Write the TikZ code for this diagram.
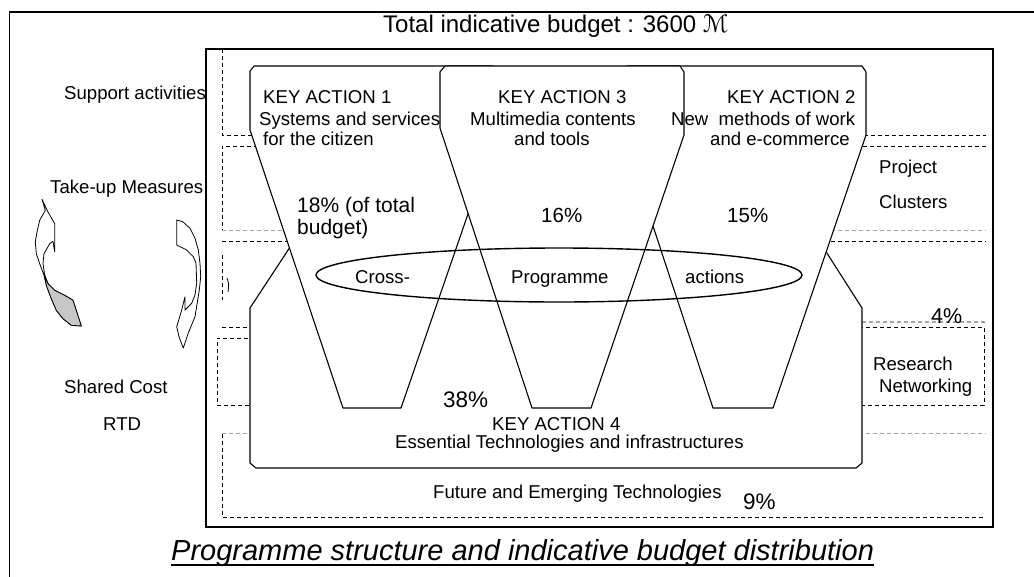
\documentclass[tikz,border=0pt]{standalone}
\usepackage{fontspec}
\setmainfont{Liberation Sans}
\newfontfamily\symfont{DejaVu Sans}
\begin{document}
\begin{tikzpicture}[x=1pt,y=-1pt,
  lbl/.style={anchor=base west, inner sep=0pt, font=\fontsize{18.6}{20}\selectfont},
  pct/.style={anchor=base west, inner sep=0pt, font=\fontsize{#1}{24}\selectfont},
  dsh/.style={dash pattern=on 4pt off 3pt, line width=0.8pt},
  gdsh/.style={dsh, draw=black!35},
  frame/.style={line width=1.8pt},
  ka/.style={draw, fill=white, line width=1.1pt, line join=round},
  twist/.style={draw, fill=white, line width=0.8pt, line join=round}]
\useasboundingbox (0,0) rectangle (1034,576);
% outer frame (clipped at the right and bottom)
\begin{scope}
  \clip (0,0) rectangle (1034,576);
  \draw[frame] (9.5,12) rectangle (1045,600);
\end{scope}
% inner frame
\draw[frame] (206,49) rectangle (993,527);
% dashed activity bands
\draw[dsh] (222,49) -- (222,135) -- (986,135);
\draw[dsh] (986,146) -- (222,146) -- (222,230);
\draw[gdsh] (222,230) -- (986,230);
\draw[dsh] (222,241) -- (986,241);
\draw[dsh] (222,255) -- (222,300);
\draw[dsh] (222,327) -- (984,327) -- (984,405) -- (217,405) -- (217,338) -- (250,338);
\draw[dsh] (862,322) -- (984,322) -- (985,326);
\draw[gdsh] (222,433) -- (986,433);
\draw[dsh] (222,434) -- (222,517) -- (986,517);
% KEY ACTION 4 (bottom shape)
\draw[ka] (250,308) -- (321,200) -- (793,200) -- (862,308) -- (862,463) -- (856,468) -- (256,468) -- (250,463) -- cycle;
% KEY ACTION 1 funnel
\draw[ka] (254,66) -- (493,66) -- (497,71) -- (497,130) -- (401,408) -- (343,408) -- (250,130) -- (250,71) -- cycle;
% KEY ACTION 2 funnel
\draw[ka] (623,135) -- (623,71) -- (627,66) -- (862,66) -- (866,72) -- (866,135) -- (773,408) -- (713,408) -- cycle;
% KEY ACTION 3 funnel (on top)
\draw[ka] (445,66) -- (680,66) -- (684,72) -- (684,135) -- (591,408) -- (532,408) -- (440,128) -- (440,72) -- cycle;
% cross-programme ellipse
\draw[line width=1.4pt] (559,275) ellipse [x radius=243pt, y radius=27pt];
% left curved arrow (up)
\draw[twist] (42,199.3) -- (48,212) -- (54.7,223.7) -- (54.7,252) -- (53,241.3) -- (49.7,243.7)
  -- (44,253.7) -- (43,263.7) -- (44.7,275.3) -- (48,283.7) -- (54.7,290.3) -- (64.7,295.3)
  -- (73,300.3) -- (81.3,326) -- (71.3,325.3) -- (63,318.7) -- (56.3,310.3) -- (51.3,298.7)
  -- (46.3,285.3) -- (44,275.3) -- (39.7,263.7) -- (36.3,253.7) -- (35.3,242) -- (37.3,230.3)
  -- (39.7,220.3) -- (45.3,210.3) -- cycle;
\draw[twist, fill=black!22] (44.7,275.3) -- (48,283.7) -- (54.7,290.3) -- (64.7,295.3)
  -- (73,300.3) -- (81.3,326) -- (71.3,325.3) -- (63,318.7) -- (56.3,310.3) -- (51.3,298.7)
  -- (46.3,285.3) -- cycle;
% right curved arrow (down)
\draw[twist] (176.7,220) -- (182.7,221.7) -- (190,228.3) -- (195,238.3) -- (198.3,250) -- (200,263.3)
  -- (200.7,276.7) -- (199.3,290) -- (195,316.7) -- (188.3,333) -- (183.3,348) -- (179,336.7)
  -- (176.7,326.7) -- (181.7,310) -- (185,296.7) -- (185,310) -- (191.7,303.3) -- (195,295)
  -- (196.7,283) -- (196,263) -- (193.3,256.7) -- (186.7,250) -- (176.7,245) -- cycle;
\draw[line width=0.8pt] (227,278) .. controls (229,284) .. (228,292);
% texts
\node[anchor=base west, inner sep=0pt, font=\fontsize{24}{26}\selectfont] (title) at (383,32) {Total indicative budget : 3600 {\symfont ℳ}};
\node[lbl] (supp) at (64,99) {Support activities};
\node[lbl] (takeup) at (50,193) {Take-up Measures};
\node[lbl] (shared) at (64,393) {Shared Cost};
\node[lbl] (rtd) at (103,430) {RTD};
\node[lbl] (ka1a) at (263,103) {KEY ACTION 1};
\node[lbl] (ka1b) at (259,125) {Systems and services};
\node[lbl] (ka1c) at (263,145) {for the citizen};
\node[lbl] (ka3a) at (498,103) {KEY ACTION 3};
\node[lbl] (ka3b) at (470,125) {Multimedia contents};
\node[lbl] (ka3c) at (514,145) {and tools};
\node[lbl] (ka2a) at (727,103) {KEY ACTION 2};
\node[lbl] (ka2b) at (671,125) {New\ \ methods of work};
\node[lbl] (ka2c) at (710,145) {and e-commerce};
\node[pct=21] (p18a) at (297,212) {18\% (of total};
\node[pct=21] (p18b) at (297,234) {budget)};
\node[pct=20.5] (p16) at (541,222) {16\%};
\node[pct=20.5] (p15) at (727,222) {15\%};
\node[lbl] (cross) at (355,283) {Cross-};
\node[lbl] (prog) at (511,283) {Programme};
\node[lbl] (act) at (685,283) {actions};
\node[lbl] (proj) at (879,173) {Project};
\node[lbl] (clus) at (879,208) {Clusters};
\node[pct=21.5] (p4) at (931,323) {4\%};
\node[lbl] (res) at (873,370) {Research};
\node[lbl] (net) at (879,392) {Networking};
\node[pct=22.5] (p38) at (443,407) {38\%};
\node[lbl] (ka4a) at (492,430) {KEY ACTION 4};
\node[lbl] (ka4b) at (395,448) {Essential Technologies and infrastructures};
\node[lbl] (fet) at (433,498) {Future and Emerging Technologies};
\node[pct=22.5] (p9) at (743,509) {9\%};
\node[anchor=base west, inner sep=0pt, font=\fontsize{29}{32}\selectfont\itshape] (cap) at (171,560) {Programme structure and indicative budget distribution};
\draw[line width=1.6pt] ([yshift=-5pt]cap.base west) -- ([yshift=-5pt]cap.base east);
\end{tikzpicture}
\end{document}
